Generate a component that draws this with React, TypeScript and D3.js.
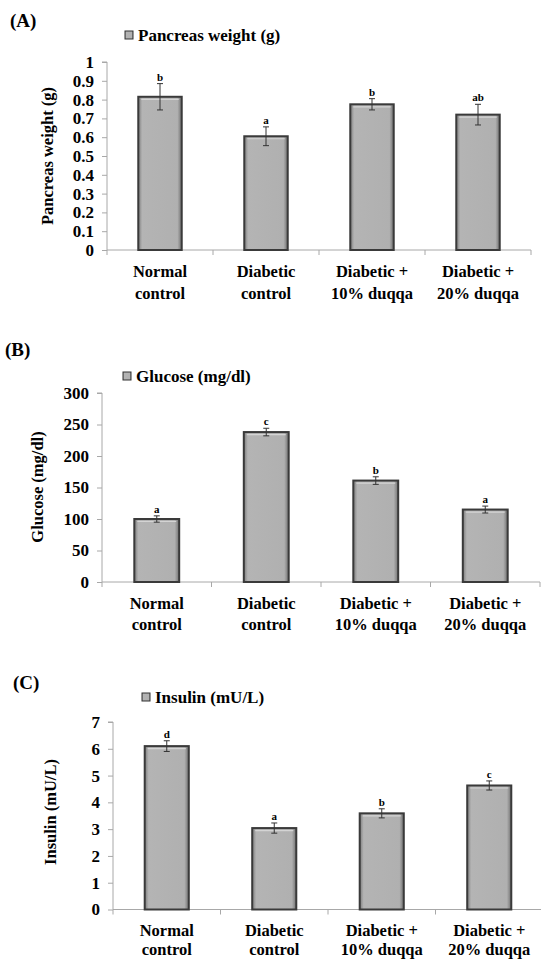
import { useRef, useEffect } from "react";
import * as d3 from "d3";

// data
const groups = [
  ["Normal", "control"],
  ["Diabetic", "control"],
  ["Diabetic +", "10% duqqa"],
  ["Diabetic +", "20% duqqa"],
];
const pancreasWeight = [0.815, 0.605, 0.775, 0.72];
const pancreasErr = [0.07, 0.05, 0.03, 0.055];
const pancreasLetters = ["b", "a", "b", "ab"];
const pancreasTicks = ["0", "0.1", "0.2", "0.3", "0.4", "0.5", "0.6", "0.7", "0.8", "0.9", "1"];

const glucose = [100, 238, 161, 115];
const glucoseErr = [5, 6, 6, 5.5];
const glucoseLetters = ["a", "c", "b", "a"];
const glucoseTicks = [0, 50, 100, 150, 200, 250, 300];

const insulin = [6.1, 3.04, 3.59, 4.63];
const insulinErr = [0.2, 0.19, 0.17, 0.17];
const insulinLetters = ["d", "a", "b", "c"];
const insulinTicks = [0, 1, 2, 3, 4, 5, 6, 7];

const FONT = "Liberation Serif, Times New Roman, Times, DejaVu Serif, serif";

const panels = [
  {
    tag: "(A)", tagX: 10, tagY: 27,
    legend: "Pancreas weight (g)", legX: 125, legY: 41,
    yLabel: "Pancreas weight (g)", yLabX: 47, yLabY: 156,
    x0: 107, x1: 531, yTop: 62, yZero: 250, max: 1,
    ticks: pancreasTicks.map(Number), fmt: (d) => pancreasTicks[Math.round(d * 10)],
    values: pancreasWeight, errs: pancreasErr, letters: pancreasLetters,
    lab1: 277, lab2: 299,
  },
  {
    tag: "(B)", tagX: 5, tagY: 356,
    legend: "Glucose (mg/dl)", legX: 123, legY: 382,
    yLabel: "Glucose (mg/dl)", yLabX: 37, yLabY: 487,
    x0: 102, x1: 540, yTop: 393, yZero: 582, max: 300,
    ticks: glucoseTicks, fmt: (d) => String(d),
    values: glucose, errs: glucoseErr, letters: glucoseLetters,
    lab1: 609, lab2: 630,
  },
  {
    tag: "(C)", tagX: 13, tagY: 689,
    legend: "Insulin (mU/L)", legX: 142, legY: 703,
    yLabel: "Insulin (mU/L)", yLabX: 50, yLabY: 812,
    x0: 113, x1: 543, yTop: 722, yZero: 909.5, max: 7,
    ticks: insulinTicks, fmt: (d) => String(d),
    values: insulin, errs: insulinErr, letters: insulinLetters,
    lab1: 936, lab2: 955,
  },
];

const App = () => {
  const svgRef = useRef(null);

  useEffect(() => {
    const svg = d3.select(svgRef.current);
    svg.selectAll("*").remove();

    // bevel-ish gradient for the bars
    const defs = svg.append("defs");
    const grad = defs.append("linearGradient").attr("id", "barGrad").attr("x1", 0).attr("x2", 1).attr("y1", 0).attr("y2", 0);
    grad.append("stop").attr("offset", "0%").attr("stop-color", "#7c7c7c");
    grad.append("stop").attr("offset", "9%").attr("stop-color", "#b4b4b4");
    grad.append("stop").attr("offset", "90%").attr("stop-color", "#b0b0b0");
    grad.append("stop").attr("offset", "100%").attr("stop-color", "#707070");

    const txt = (sel, size) =>
      sel.style("font-family", FONT).style("font-size", size + "px").style("font-weight", "bold").attr("fill", "#000");

    panels.forEach((p) => {
      const g = svg.append("g");
      const x = d3.scaleBand().domain(d3.range(groups.length)).range([p.x0, p.x1]).paddingInner(0.59).paddingOuter(0.295);
      const y = d3.scaleLinear().domain([0, p.max]).range([p.yZero, p.yTop]);

      // panel tag
      txt(g.append("text").attr("x", p.tagX).attr("y", p.tagY).text(p.tag), 19);

      // legend
      g.append("rect").attr("x", p.legX).attr("y", p.legY - 10).attr("width", 8).attr("height", 8)
        .attr("fill", "url(#barGrad)").attr("stroke", "#333").attr("stroke-width", 1);
      txt(g.append("text").attr("x", p.legX + 13).attr("y", p.legY).text(p.legend), 17);

      // y axis
      const yAxis = d3.axisLeft(y).tickValues(p.ticks).tickSize(5).tickPadding(8).tickFormat(p.fmt);
      const ya = g.append("g").attr("transform", `translate(${p.x0},0)`).call(yAxis);
      ya.select(".domain").attr("stroke", "#a8a8a8").attr("d", `M-5,${p.yTop}H0V${p.yZero}`);
      ya.selectAll(".tick line").attr("stroke", "#a8a8a8");
      txt(ya.selectAll(".tick text"), 17);

      // x axis line with category ticks
      const bounds = d3.range(groups.length + 1).map((i) => p.x0 + i * x.step());
      g.append("line").attr("x1", p.x0).attr("x2", Math.min(p.x1, 541)).attr("y1", p.yZero).attr("y2", p.yZero).attr("stroke", "#a8a8a8");
      g.selectAll(".xt").data(bounds).join("line")
        .attr("x1", (d) => d).attr("x2", (d) => d).attr("y1", p.yZero).attr("y2", p.yZero + 5).attr("stroke", "#a8a8a8");

      // y label
      txt(
        g.append("text").attr("transform", `translate(${p.yLabX},${p.yLabY}) rotate(-90)`)
          .attr("text-anchor", "middle").attr("dominant-baseline", "central").text(p.yLabel),
        16.5
      );

      // bars
      g.selectAll(".bar").data(p.values).join("rect")
        .attr("x", (d, i) => x(i))
        .attr("y", (d) => y(d))
        .attr("width", x.bandwidth())
        .attr("height", (d) => p.yZero - y(d))
        .attr("fill", "url(#barGrad)")
        .attr("stroke", "#3a3a3a")
        .attr("stroke-width", 2);
      // inner highlight along top
      g.selectAll(".hl").data(p.values).join("line")
        .attr("x1", (d, i) => x(i) + 3).attr("x2", (d, i) => x(i) + x.bandwidth() - 3)
        .attr("y1", (d) => y(d) + 2.5).attr("y2", (d) => y(d) + 2.5)
        .attr("stroke", "#d4d4d4").attr("stroke-width", 1.2);

      // error bars
      const cx = (i) => x(i) + x.bandwidth() / 2;
      p.values.forEach((v, i) => {
        const e = p.errs[i];
        g.append("line").attr("x1", cx(i)).attr("x2", cx(i)).attr("y1", y(v + e)).attr("y2", y(v - e)).attr("stroke", "#333").attr("stroke-width", 1);
        [v + e, v - e].forEach((c) => {
          g.append("line").attr("x1", cx(i) - 3).attr("x2", cx(i) + 3).attr("y1", y(c)).attr("y2", y(c)).attr("stroke", "#333").attr("stroke-width", 1);
        });
        txt(g.append("text").attr("x", cx(i)).attr("y", y(v + e) - 3).attr("text-anchor", "middle").text(p.letters[i]), 11);
      });

      // category labels
      groups.forEach((lines, i) => {
        [p.lab1, p.lab2].forEach((yy, k) => {
          txt(g.append("text").attr("x", cx(i)).attr("y", yy).attr("text-anchor", "middle").text(lines[k]), 16.5);
        });
      });
    });
  }, []);

  return (
    <svg
      ref={svgRef}
      width={541}
      height={959}
      style={{ position: "absolute", left: 0, top: 0, background: "#fff" }}
    ></svg>
  );
};

export default App;
